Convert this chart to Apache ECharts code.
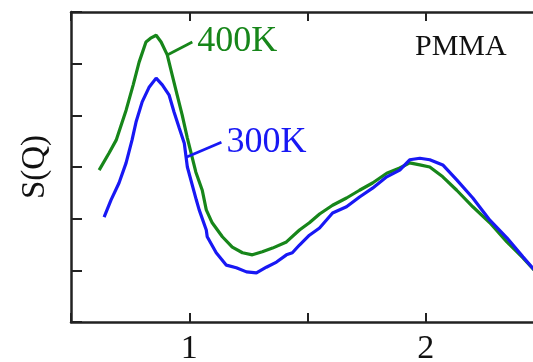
<!DOCTYPE html>
<html>
<head>
<meta charset="utf-8">
<script src="https://cdn.jsdelivr.net/npm/echarts@6/dist/echarts.min.js"></script>
<style>
  html, body { margin: 0; padding: 0; background: #fff; }
  #chart { width: 533px; height: 362px; }
</style>
</head>
<body>
<div id="chart"></div>
<script>
// Q values (x) and S(Q), arbitrary units on y
const q400 = [0.619, 0.661, 0.691, 0.733, 0.763, 0.788, 0.817, 0.839, 0.860, 0.881, 0.907, 0.928, 0.949, 0.970, 0.992, 1.028, 1.055, 1.072, 1.097, 1.140, 1.182, 1.225, 1.267, 1.309, 1.352, 1.411, 1.466, 1.508, 1.551, 1.606, 1.665, 1.720, 1.775, 1.835, 1.890, 1.932, 1.975, 2.017, 2.072, 2.131, 2.199, 2.271, 2.343, 2.411, 2.449, 2.49]
const s400 = [2.94, 3.27, 3.52, 4.10, 4.59, 5.03, 5.42, 5.50, 5.55, 5.42, 5.17, 4.78, 4.39, 4.01, 3.56, 2.90, 2.55, 2.17, 1.92, 1.65, 1.45, 1.34, 1.30, 1.36, 1.43, 1.55, 1.78, 1.92, 2.09, 2.26, 2.40, 2.55, 2.69, 2.88, 2.98, 3.08, 3.04, 3.00, 2.81, 2.55, 2.23, 1.92, 1.55, 1.24, 1.05, 0.85]
const q300 = [0.640, 0.669, 0.703, 0.733, 0.758, 0.775, 0.801, 0.831, 0.860, 0.886, 0.915, 0.936, 0.958, 0.979, 0.992, 1.030, 1.042, 1.072, 1.076, 1.114, 1.157, 1.199, 1.242, 1.284, 1.326, 1.369, 1.411, 1.436, 1.466, 1.508, 1.551, 1.606, 1.665, 1.720, 1.775, 1.835, 1.890, 1.932, 1.975, 2.017, 2.072, 2.131, 2.199, 2.271, 2.343, 2.411, 2.449, 2.49]
const s300 = [2.03, 2.36, 2.69, 3.08, 3.52, 3.87, 4.26, 4.55, 4.72, 4.59, 4.39, 4.06, 3.75, 3.46, 3.00, 2.36, 2.17, 1.78, 1.65, 1.34, 1.10, 1.05, 0.97, 0.95, 1.06, 1.16, 1.30, 1.34, 1.49, 1.68, 1.82, 2.11, 2.23, 2.42, 2.59, 2.81, 2.94, 3.14, 3.17, 3.14, 3.04, 2.75, 2.40, 1.97, 1.63, 1.26, 1.06, 0.86]
// leader lines from curve to the temperature labels
const lead400 = [[0.907, 5.17], [1.013, 5.42]]
const lead300 = [[0.987, 3.19], [1.136, 3.48]]
const xTickLabels = { 1: '1', 2: '2' }

const green = '#17861a'
const blue = '#1818f4'
const axisColor = '#222'
const serif = 'Liberation Serif'

const chart = echarts.init(document.getElementById('chart'))

function zip(xs, ys) {
  return xs.map((x, i) => [x, ys[i]])
}

const lineSeries = (name, data, color) => ({
  name: name,
  type: 'line',
  data: data,
  showSymbol: false,
  symbol: 'none',
  smooth: false,
  lineStyle: { color: color, width: 3.2 },
  silent: true,
  animation: false
})

const leader = (data, color, text) => ({
  type: 'line',
  data: data,
  symbol: 'none',
  lineStyle: { color: color, width: 2.8 },
  silent: true,
  animation: false,
  endLabel: {
    show: true,
    formatter: text,
    color: color,
    fontFamily: serif,
    fontSize: 36,
    distance: 5
  }
})

chart.setOption({
  backgroundColor: '#fff',
  grid: { left: 71, top: 12, width: 473, height: 310, outerBoundsMode: 'none', containLabel: false },
  xAxis: [{
    type: 'value',
    min: 0.5,
    max: 2.5,
    interval: 0.5,
    axisLine: { show: true, lineStyle: { color: axisColor, width: 2.5 } },
    axisTick: { show: true, inside: true, length: 9, lineStyle: { color: axisColor, width: 2 } },
    axisLabel: {
      formatter: v => xTickLabels[v] || '',
      fontFamily: serif,
      fontSize: 34,
      color: '#111',
      margin: 10
    },
    splitLine: { show: false }
  }, {
    type: 'value',
    position: 'top',
    min: 0.5,
    max: 2.5,
    interval: 0.5,
    axisLine: { show: true, lineStyle: { color: axisColor, width: 2.5 } },
    axisTick: { show: true, inside: true, length: 9, lineStyle: { color: axisColor, width: 2 } },
    axisLabel: { show: false },
    splitLine: { show: false }
  }],
  yAxis: {
    type: 'value',
    min: 0,
    max: 6,
    interval: 1,
    name: 'S(Q)',
    nameLocation: 'middle',
    nameRotate: 90,
    nameGap: 19,
    nameTextStyle: { fontFamily: serif, fontSize: 33, color: '#111' },
    axisLine: { show: true, lineStyle: { color: axisColor, width: 2.5 } },
    axisTick: { show: true, inside: true, length: 11, lineStyle: { color: axisColor, width: 2 } },
    axisLabel: { show: false },
    splitLine: { show: false }
  },
  series: [
    lineSeries('400K', zip(q400, s400), green),
    lineSeries('300K', zip(q300, s300), blue),
    leader(lead400, green, '400K'),
    leader(lead300, blue, '300K')
  ],
  graphic: [{
    type: 'text',
    left: 415,
    top: 32,
    style: { text: 'PMMA', fontFamily: serif, fontSize: 30, fill: '#111' }
  }]
})
</script>
</body>
</html>
